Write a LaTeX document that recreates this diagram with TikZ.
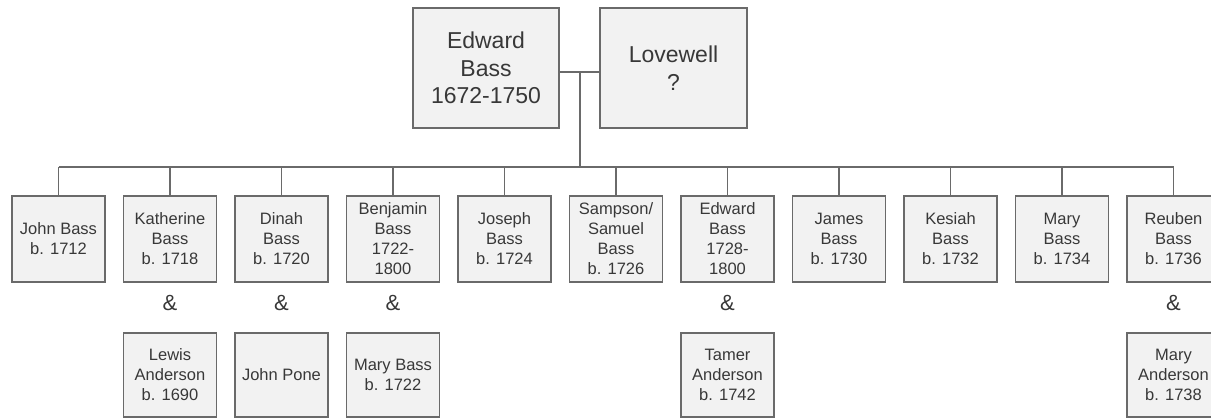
\documentclass[tikz,border=0pt]{standalone}
\usepackage{fontspec}
\setmainfont{Liberation Sans}
\definecolor{boxfill}{HTML}{F2F2F2}
\definecolor{boxline}{HTML}{6A6A6A}
\definecolor{txt}{HTML}{383838}
\begin{document}
\begin{tikzpicture}[x=1pt,y=-1pt,
  person/.style={draw=boxline, line width=1.3pt, fill=boxfill, text=txt,
    minimum width=93pt, minimum height=86pt, inner sep=0pt, align=center,
    font=\fontsize{16.5}{20}\selectfont},
  spouse/.style={person, minimum height=84pt},
  parent/.style={draw=boxline, line width=1.3pt, fill=boxfill, text=txt,
    minimum width=146pt, minimum height=120pt, inner sep=0pt, align=center,
    font=\fontsize{23}{27.5}\selectfont},
  amp/.style={text=txt, inner sep=0pt, font=\fontsize{22}{26}\selectfont},
  link/.style={draw=boxline, line width=1.3pt}]
\useasboundingbox (0,0) rectangle (1211,418);
\clip (0,0) rectangle (1211,418);

% parents
\node[parent] (ed) at (486,68) {Edward\\Bass\\1672-1750};
\node[parent, minimum width=147pt] (lv) at (673.5,68) {Lovewell\\?};

% children
\node[person] (c1) at (58.5,239) {John Bass\\b. 1712};
\node[person] (c2) at (170,239) {Katherine\\Bass\\b. 1718};
\node[person] (c3) at (281.5,239) {Dinah\\Bass\\b. 1720};
\node[person] (c4) at (393,239) {Benjamin\\Bass\\1722-\\1800};
\node[person] (c5) at (504.5,239) {Joseph\\Bass\\b. 1724};
\node[person] (c6) at (616,239) {Sampson/\\Samuel\\Bass\\b. 1726};
\node[person] (c7) at (727.5,239) {Edward\\Bass\\1728-\\1800};
\node[person] (c8) at (839,239) {James\\Bass\\b. 1730};
\node[person] (c9) at (950.5,239) {Kesiah\\Bass\\b. 1732};
\node[person] (c10) at (1062,239) {Mary\\Bass\\b. 1734};
\node[person] (c11) at (1173.5,239) {Reuben\\Bass\\b. 1736};

% ampersands
\node[amp] (a2) at (170,303) {\&};
\node[amp] (a3) at (281.5,303) {\&};
\node[amp] (a4) at (393,303) {\&};
\node[amp] (a7) at (727.5,303) {\&};
\node[amp] (a11) at (1173.5,303) {\&};

% spouses
\node[spouse] (s2) at (170,375) {Lewis\\Anderson\\b. 1690};
\node[spouse] (s3) at (281.5,375) {John Pone};
\node[spouse] (s4) at (393,375) {Mary Bass\\b. 1722};
\node[spouse] (s7) at (727.5,375) {Tamer\\Anderson\\b. 1742};
\node[spouse] (s11) at (1173.5,375) {Mary\\Anderson\\b. 1738};

% connectors
\coordinate (j) at (580,72);
\coordinate (bus) at (580,167);
\draw[link] (ed.east |- j) -- (lv.west |- j);
\draw[link] (j) -- (bus);
\draw[link] (c1.north |- bus) -- (c11.north |- bus);
\foreach \i in {1,...,11} {
  \draw[link] (c\i.north) -- (c\i.north |- bus);
}
\end{tikzpicture}
\end{document}
